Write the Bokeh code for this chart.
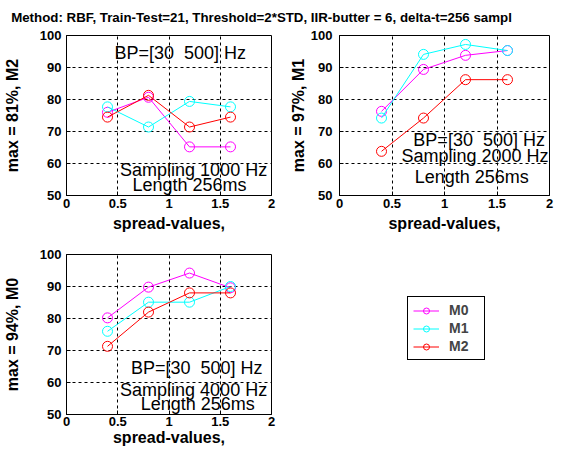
from bokeh.plotting import figure
from bokeh.layouts import column, row
from bokeh.models import FixedTicker, Legend, LegendItem, Range1d, ColumnDataSource
from bokeh.core.properties import value
from bokeh.embed import file_html
from bokeh.resources import INLINE

title_text = "Method: RBF, Train-Test=21, Threshold=2*STD, IIR-butter = 6, delta-t=256 sampl"
spread = [0.4, 0.8, 1.2, 1.6]
series_names = ["M0", "M1", "M2"]
colors = ["#ff00ff", "#00ffff", "#ff0000"]

# Sampling 1000 Hz (max = 81%, M2)
s1000_m0 = [76.0, 80.7, 65.2, 65.2]
s1000_m1 = [77.7, 71.4, 79.4, 77.7]
s1000_m2 = [74.5, 81.3, 71.4, 74.5]
# Sampling 2000 Hz (max = 97%, M1)
s2000_m0 = [76.3, 89.4, 93.8, 95.3]
s2000_m1 = [74.2, 94.1, 97.2, 95.3]
s2000_m2 = [63.8, 74.2, 86.2, 86.2]
# Sampling 4000 Hz (max = 94%, M0)
s4000_m0 = [80.2, 89.8, 94.2, 89.6]
s4000_m1 = [76.0, 85.1, 85.1, 90.0]
s4000_m2 = [71.3, 82.0, 88.0, 88.0]

x_ticks = [0, 0.5, 1, 1.5, 2]
x_tick_labels = ["0", "0.5", "1", "1.5", "2"]
y_ticks = [50, 60, 70, 80, 90, 100]
y_tick_labels = ["50", "60", "70", "80", "90", "100"]
ylabels = ["max = 81%, M2", "max = 97%, M1", "max = 94%, M0"]
xlabel = "spread-values,"
bp_text = "BP=[30\u00a0 500] Hz"
sampling_texts = ["Sampling 1000 Hz", "Sampling 2000 Hz", "Sampling 4000 Hz"]
length_text = "Length 256ms"

FONT = "Liberation Sans"


def panel(width, height, bl, br, bt, bb, ylabel, series, texts, tick_standoff, label_standoff,
          xtick_standoff, xlabel_standoff):
    p = figure(width=width, height=height, x_range=Range1d(0, 2), y_range=Range1d(50, 100),
               output_backend="svg", toolbar_location=None, title=None,
               min_border_left=bl, min_border_right=br, min_border_top=bt, min_border_bottom=bb)
    p.background_fill_color = "white"
    p.border_fill_color = "white"
    p.outline_line_color = "black"
    p.outline_line_width = 1
    p.outline_line_alpha = 1
    p.xaxis.ticker = FixedTicker(ticks=x_ticks)
    p.yaxis.ticker = FixedTicker(ticks=y_ticks)
    p.xaxis.major_label_overrides = {t: l for t, l in zip(x_ticks, x_tick_labels)}
    p.yaxis.major_label_overrides = {t: l for t, l in zip(y_ticks, y_tick_labels)}
    for ax in (p.xaxis, p.yaxis):
        ax.axis_line_color = "black"
        ax.major_tick_in = 4
        ax.major_tick_out = 0
        ax.minor_tick_line_color = None
        ax.major_label_text_font = FONT
        ax.major_label_text_font_style = "bold"
        ax.major_label_text_font_size = "13px"
        ax.major_label_text_color = "black"
        ax.axis_label_text_font = FONT
        ax.axis_label_text_font_style = "bold"
        ax.axis_label_text_font_size = "16px"
        ax.axis_label_text_color = "black"
    p.xaxis.axis_label = xlabel
    p.yaxis.axis_label = ylabel
    p.xaxis.major_label_standoff = xtick_standoff
    p.xaxis.axis_label_standoff = xlabel_standoff
    p.yaxis.major_label_standoff = tick_standoff
    p.yaxis.axis_label_standoff = label_standoff
    p.xgrid.grid_line_color = "black"
    p.ygrid.grid_line_color = "black"
    p.xgrid.grid_line_dash = "3 3"
    p.ygrid.grid_line_dash = "3 3"
    p.xgrid.grid_line_width = 1
    p.ygrid.grid_line_width = 1
    p.xgrid.grid_line_alpha = 1
    p.ygrid.grid_line_alpha = 1
    for vals, c in zip(series, colors):
        src = ColumnDataSource(dict(x=spread, y=vals))
        p.line("x", "y", source=src, line_color=c, line_width=1)
        p.scatter("x", "y", source=src, size=10, marker="circle", fill_color=None,
                  line_color=c, line_width=1)
    tx, ty, tt = zip(*texts)
    p.text(x=list(tx), y=list(ty), text=list(tt), text_align="center", text_baseline="middle",
           text_font=value(FONT), text_font_size="18px", text_color="black")
    return p


title_fig = figure(width=563, height=26, x_range=Range1d(0, 563), y_range=Range1d(0, 26),
                   output_backend="svg", toolbar_location=None, min_border=0, title=None,
                   x_axis_location=None, y_axis_location=None)
title_fig.grid.visible = False
title_fig.outline_line_color = None
title_fig.text(x=[261], y=[9], text=[title_text], text_align="center", text_baseline="middle",
               text_font=value(FONT), text_font_style="bold",
               text_font_size="13.3px", text_color="black")

p1 = panel(282, 210, 60, 11, 9, 41, ylabels[0], [s1000_m0, s1000_m1, s1000_m2],
           [(1.11, 94.4, bp_text), (1.24, 58.1, sampling_texts[0]), (1.2, 53.4, length_text)],
           5, 16, 3, 4)
p2 = panel(281, 210, 57, 14, 9, 41, ylabels[1], [s2000_m0, s2000_m1, s2000_m2],
           [(1.33, 67.5, bp_text), (1.29, 62.2, sampling_texts[1]), (1.26, 55.9, length_text)],
           7, 1, 3, 4)
p3 = panel(282, 212, 60, 11, 18, 34, ylabels[2], [s4000_m0, s4000_m1, s4000_m2],
           [(1.27, 64.4, bp_text), (1.24, 57.8, sampling_texts[2]), (1.28, 53.4, length_text)],
           5, 16, 2, 0)

# legend panel (its renderers lie outside the visible ranges; only the legend shows)
p4 = figure(width=281, height=212, x_range=Range1d(10, 11), y_range=Range1d(0, 1),
            output_backend="svg", toolbar_location=None, min_border=0, title=None,
            x_axis_location=None, y_axis_location=None)
p4.grid.visible = False
p4.outline_line_color = None
items = []
for name, c, vals in zip(series_names, colors, [s4000_m0, s4000_m1, s4000_m2]):
    src = ColumnDataSource(dict(x=spread, y=vals))
    lr = p4.line("x", "y", source=src, line_color=c, line_width=1)
    sr = p4.scatter("x", "y", source=src, size=10, marker="circle", fill_color=None,
                    line_color=c, line_width=1)
    items.append(LegendItem(label=name, renderers=[lr, sr]))
leg = Legend(items=items, location=(125, 54))
leg.border_line_color = "black"
leg.border_line_width = 1
leg.border_line_alpha = 1
leg.background_fill_color = "white"
leg.background_fill_alpha = 1
leg.label_text_font = FONT
leg.label_text_font_style = "bold"
leg.label_text_font_size = "14px"
leg.glyph_width = 26
leg.glyph_height = 15
leg.label_height = 15
leg.label_width = 30
leg.label_standoff = 10
leg.spacing = 2
leg.padding = 5
leg.margin = 0
p4.add_layout(leg, "center")

layout = column(title_fig, row(p1, p2), row(p3, p4), spacing=0)
open("out.html", "w").write(file_html(layout, INLINE))
